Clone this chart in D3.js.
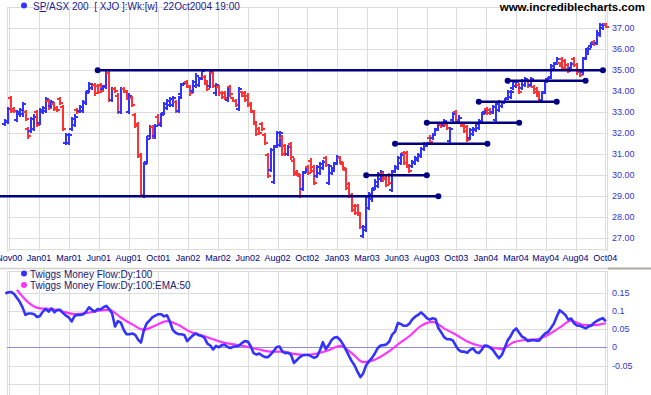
<!DOCTYPE html>
<html>
<head>
<meta charset="utf-8">
<script src="https://d3js.org/d3.v7.min.js"></script>
<style>
  html, body { margin: 0; padding: 0; background: #fff; }
  svg { display: block; font-family: "Liberation Sans", Arial, sans-serif; }
</style>
</head>
<body>
<svg width="651" height="395"></svg>
<script>
// weekly bars of the XJO, 27 Oct 2000 .. 22 Oct 2004
var tickLabels = ["Nov00","Jan01","Mar01","Jun01","Aug01","Oct01","Jan02","Mar02","Jun02","Aug02","Oct02",
                  "Jan03","Mar03","Jun03","Aug03","Oct03","Jan04","Mar04","May04","Aug04","Oct04"];
var priceTicks = [27, 28, 29, 30, 31, 32, 33, 34, 35, 36, 37];
var tmfTicks = [0.15, 0.1, 0.05, 0, -0.05];

var highs = [
  32.70,33.25,33.80,33.25,33.10,33.20,33.50,33.10,32.30,32.80,
  32.90,33.10,33.20,33.30,33.75,33.65,33.60,33.50,33.30,33.75,
  33.35,32.00,32.00,32.80,32.90,33.20,33.35,33.60,34.00,34.45,
  34.40,34.40,34.35,34.40,34.30,34.95,34.95,34.20,34.20,33.90,
  34.20,34.20,34.05,33.90,33.80,32.95,32.55,31.05,30.65,31.85,
  32.40,32.40,32.45,32.90,32.95,33.50,33.65,33.75,33.80,33.60,
  33.80,34.40,34.45,34.55,34.30,34.55,34.85,34.70,35.05,34.80,
  34.45,35.00,34.95,34.40,34.30,34.00,34.00,34.15,34.30,33.75,
  33.65,34.20,34.00,34.00,33.90,33.50,33.10,32.55,32.30,32.55,
  32.00,31.05,31.30,31.45,32.10,32.10,31.90,31.50,31.45,31.60,
  30.80,30.25,30.05,30.20,30.40,30.50,30.80,30.50,30.50,30.65,
  30.75,30.90,30.55,30.40,30.65,30.95,30.90,30.65,30.35,29.70,
  29.15,28.65,28.65,28.25,27.65,29.05,29.20,29.40,29.80,30.15,
  30.25,30.15,29.95,30.10,30.25,30.50,30.90,31.05,31.15,31.15,
  30.55,30.75,30.90,31.05,31.35,31.60,31.60,31.90,32.00,32.25,
  32.50,32.55,32.70,32.50,32.30,33.00,33.10,32.85,32.55,32.55,
  32.40,32.25,32.30,32.55,32.70,33.00,33.20,33.25,33.20,33.35,
  33.50,33.60,33.55,33.70,34.05,34.05,34.55,34.55,34.40,34.60,
  34.70,34.60,34.70,34.30,34.20,34.00,34.00,34.55,34.70,35.30,
  35.40,35.65,35.40,35.65,35.55,35.35,35.40,35.65,35.35,35.00,
  35.65,36.05,36.10,36.35,36.45,36.90,37.25,37.25,37.25];

var lows = [
  32.35,32.45,32.95,32.95,32.55,32.80,32.80,32.60,31.75,32.00,
  32.10,32.30,32.40,32.90,32.95,33.10,33.20,33.05,33.00,33.35,
  32.10,31.45,31.45,32.10,32.30,32.90,32.95,32.95,33.35,33.90,
  34.05,33.80,33.85,33.90,34.05,34.10,33.50,33.50,33.90,32.90,
  32.90,33.90,33.60,32.90,33.25,32.25,30.80,28.95,28.90,30.55,
  31.75,31.75,31.75,32.40,32.30,32.85,33.10,33.25,33.25,32.95,
  32.95,33.75,34.30,34.15,33.80,33.90,34.15,34.20,34.55,34.40,
  34.00,34.15,34.15,33.80,33.80,33.65,33.60,33.50,33.75,33.50,
  33.25,33.05,33.75,33.50,33.25,32.95,32.45,31.85,31.90,32.10,
  31.45,29.85,30.15,29.60,31.30,31.35,30.90,30.90,30.90,30.75,
  29.95,29.95,28.90,29.25,30.10,30.00,30.10,29.55,29.85,30.00,
  30.25,30.40,29.55,30.00,30.15,30.50,30.55,30.25,29.30,28.90,
  28.25,28.10,28.05,27.45,27.00,27.30,28.35,28.75,29.30,29.40,
  29.70,29.70,29.45,29.55,29.20,30.10,30.25,30.50,30.50,30.35,
  30.10,30.35,30.50,30.65,30.80,31.15,31.35,31.50,31.70,31.85,
  32.10,32.25,32.30,32.15,31.55,32.55,32.55,32.45,32.30,32.00,
  31.60,31.70,31.85,32.05,32.15,32.50,32.90,32.85,32.85,32.90,
  32.55,33.00,33.20,33.45,33.60,33.65,34.05,34.15,33.85,34.05,
  34.20,34.15,34.20,33.85,33.75,33.50,33.50,33.85,34.55,34.60,
  34.95,35.25,35.15,35.00,34.95,34.85,35.00,35.15,34.80,34.70,
  34.80,35.50,35.75,36.05,36.15,36.20,36.60,36.90,37.00];

var opens = [
  32.45,32.55,33.70,33.15,32.65,32.90,32.90,33.00,32.20,32.10,
  32.20,33.00,32.50,33.00,33.05,33.55,33.30,33.40,33.20,33.65,
  33.25,31.55,31.55,32.20,32.40,33.10,33.05,33.05,33.45,34.00,
  34.15,34.30,34.25,34.30,34.10,34.20,34.85,33.60,34.10,33.80,
  33.00,34.10,33.95,33.00,33.70,32.85,32.45,30.95,29.00,30.65,
  31.85,32.30,31.85,32.80,32.40,32.95,33.20,33.35,33.35,33.50,
  33.05,33.85,34.35,34.45,34.20,34.00,34.25,34.30,34.65,34.70,
  34.35,34.25,34.85,33.90,34.20,33.90,33.90,33.60,34.20,33.70,
  33.55,33.15,33.95,33.90,33.80,33.40,33.00,32.45,32.20,32.45,
  31.90,30.95,30.25,29.70,31.40,31.45,31.80,31.40,31.00,31.50,
  30.70,30.15,29.95,29.35,30.15,30.40,30.70,30.40,29.95,30.10,
  30.35,30.80,29.65,30.10,30.25,30.60,30.80,30.55,30.25,29.60,
  29.05,28.55,28.55,28.15,27.10,27.40,28.45,28.85,29.40,29.50,
  29.80,30.05,29.85,30.00,29.30,30.20,30.35,30.60,31.05,31.05,
  30.45,30.45,30.60,30.75,30.90,31.25,31.40,31.80,31.80,31.95,
  32.20,32.45,32.40,32.40,31.65,32.65,33.00,32.55,32.50,32.45,
  32.30,31.80,31.95,32.15,32.25,32.60,33.00,33.15,33.10,33.00,
  32.65,33.10,33.30,33.50,33.70,33.75,34.15,34.25,34.30,34.15,
  34.30,34.50,34.30,34.20,34.10,33.90,33.60,33.95,34.60,34.70,
  35.05,35.35,35.35,35.55,35.45,35.25,35.10,35.55,35.25,34.90,
  34.90,35.60,35.85,36.15,36.35,36.30,36.70,37.00,37.20];

var closes = [
  32.60,33.15,33.05,33.05,33.00,33.10,33.40,32.70,31.85,32.70,
  32.80,32.40,33.10,33.20,33.65,33.20,33.50,33.15,33.10,33.45,
  32.20,31.90,31.90,32.70,32.80,33.00,33.25,33.50,33.90,34.35,
  34.30,33.90,33.95,34.00,34.25,34.85,33.60,34.10,34.00,33.00,
  34.10,34.00,33.70,33.80,33.35,32.35,30.90,29.05,30.55,31.75,
  32.30,31.85,32.35,32.50,32.85,33.40,33.55,33.65,33.70,33.05,
  33.70,34.30,34.40,34.25,33.90,34.45,34.75,34.60,34.95,34.50,
  34.10,34.90,34.25,34.30,33.90,33.75,33.70,34.05,33.85,33.55,
  33.35,34.10,33.80,33.60,33.35,33.05,32.55,31.95,32.00,32.20,
  31.55,29.95,31.20,31.35,32.00,32.00,31.00,31.00,31.35,30.85,
  30.05,30.05,29.00,30.10,30.35,30.10,30.20,29.65,30.40,30.55,
  30.65,30.50,30.45,30.30,30.55,30.85,30.65,30.35,29.40,29.00,
  28.35,28.20,28.15,27.55,27.55,28.95,29.10,29.30,29.70,30.05,
  30.15,29.80,29.55,29.65,30.15,30.40,30.80,30.95,30.60,30.45,
  30.20,30.65,30.80,30.95,31.25,31.50,31.55,31.60,31.90,32.15,
  32.40,32.35,32.60,32.25,32.20,32.90,32.65,32.75,32.35,32.10,
  31.70,32.15,32.20,32.45,32.60,32.90,33.10,32.95,32.95,33.25,
  33.40,33.50,33.45,33.65,33.95,33.95,34.45,34.45,33.95,34.50,
  34.60,34.25,34.60,33.95,33.85,33.60,33.90,34.45,34.65,35.20,
  35.30,35.55,35.20,35.10,35.05,34.95,35.30,35.25,34.90,34.80,
  35.55,35.95,36.00,36.25,36.25,36.80,37.15,37.15,37.05];

// Twiggs Money Flow (100 day), read once per week
var tmf = [
  0.148,0.151,0.152,0.147,0.136,0.125,0.109,0.089,0.093,0.093,
  0.091,0.083,0.086,0.098,0.105,0.098,0.107,0.096,0.103,0.103,
  0.094,0.087,0.082,0.071,0.086,0.089,0.089,0.091,0.098,0.110,
  0.103,0.098,0.105,0.104,0.110,0.114,0.105,0.093,0.057,0.072,
  0.068,0.048,0.036,0.036,0.038,0.034,0.021,0.013,0.047,0.066,
  0.074,0.083,0.087,0.091,0.091,0.085,0.088,0.071,0.048,0.040,
  0.036,0.036,0.034,0.017,0.025,0.033,0.038,0.033,0.031,0.026,
  0.010,0.005,-0.006,0.004,0.000,0.006,0.007,0.001,-0.002,0.002,
  0.002,0.005,0.012,0.017,0.016,0.003,-0.016,-0.020,-0.017,-0.023,
  -0.027,-0.027,-0.019,-0.010,0.001,0.002,-0.012,-0.016,-0.015,-0.021,
  -0.043,-0.035,-0.027,-0.022,-0.021,-0.021,-0.025,-0.029,-0.025,-0.008,
  0.014,-0.005,0.006,0.020,0.027,0.028,0.020,0.008,-0.007,-0.023,
  -0.038,-0.050,-0.067,-0.082,-0.071,-0.049,-0.038,-0.029,-0.017,-0.002,
  0.005,0.006,0.008,0.016,0.035,0.043,0.067,0.064,0.059,0.059,
  0.065,0.077,0.084,0.089,0.096,0.089,0.080,0.076,0.080,0.078,
  0.053,0.041,0.028,0.022,0.022,0.019,0.005,-0.007,-0.012,-0.012,
  -0.015,-0.007,-0.003,-0.013,-0.016,-0.007,0.005,0.004,-0.001,-0.008,
  -0.020,-0.030,-0.021,-0.001,0.019,0.030,0.045,0.052,0.040,0.029,
  0.025,0.017,0.019,0.020,0.018,0.019,0.030,0.038,0.042,0.053,
  0.065,0.084,0.102,0.096,0.089,0.076,0.079,0.066,0.060,0.059,
  0.056,0.052,0.057,0.060,0.068,0.073,0.077,0.080,0.071];

// EMA:50 of the money flow, read every 4th week starting at week 4
var emaFirstWeek = 4, emaEvery = 4;
var tmfEma = [
  0.158,0.123,0.107,0.105,0.098,0.091,0.094,0.100,0.103,0.082,
  0.063,0.048,0.060,0.072,0.061,0.043,0.033,0.022,0.012,0.007,
  0.001,-0.006,-0.012,-0.012,-0.018,-0.021,-0.017,-0.008,0.004,-0.016,
  -0.041,-0.034,-0.016,0.008,0.031,0.059,0.070,0.052,0.035,0.016,
  0.005,0.000,-0.005,0.014,0.020,0.022,0.034,0.054,0.073,0.062,
  0.061,0.066];

// support / resistance lines drawn on the chart (bar index from..to)
var lineLevel = [35, 29, 30, 31.5, 32.5, 33.5, 34.5];
var lineFrom  = [32, -3, 125, 135, 146, 164, 174];
var lineTo    = [207, 150, 146, 167, 178, 191, 201];

var blue = "#3333ff", red = "#ff3333", navy = "#000080", grid = "#dcdcdc";

var svg = d3.select("svg");
var left = 7, right = 607;

var x = d3.scaleLinear().domain([0, highs.length - 1]).range([5.3, 5.3 + 2.887 * (highs.length - 1)]);
var xg = d3.scalePoint().domain(tickLabels).range([9.3, 605.3]);
var y = d3.scaleLinear().domain([26.5, 38]).range([248.8, 7.3]);
var y2 = d3.scaleLinear().domain([-0.1, 0.2]).range([383.7, 274.5]);

function px(v) { return Math.round(v) + 0.5; }

// ---------- price panel ----------
var upper = svg.append("g");

upper.selectAll("line.vg").data(tickLabels).enter().append("line")
  .attr("x1", d => px(xg(d))).attr("x2", d => px(xg(d)))
  .attr("y1", 7).attr("y2", 251)
  .attr("stroke", grid).attr("shape-rendering", "crispEdges");

upper.selectAll("line.hg").data(priceTicks.concat([38, 26.5])).enter().append("line")
  .attr("x1", left).attr("x2", right)
  .attr("y1", d => px(y(d))).attr("y2", d => px(y(d)))
  .attr("stroke", grid).attr("shape-rendering", "crispEdges");

[left, right].forEach(function(v) {
  upper.append("line").attr("x1", v + 0.5).attr("x2", v + 0.5).attr("y1", 7).attr("y2", 251)
    .attr("stroke", grid).attr("shape-rendering", "crispEdges");
});

var bars = upper.selectAll("g.bar").data(highs.map((h, i) => i)).enter().append("g")
  .attr("stroke", i => closes[i] >= opens[i] ? blue : red)
  .attr("stroke-width", 2)
  .attr("shape-rendering", "crispEdges");

bars.append("line")
  .attr("x1", i => Math.round(x(i))).attr("x2", i => Math.round(x(i)))
  .attr("y1", i => Math.round(y(highs[i]))).attr("y2", i => Math.round(y(lows[i])));
bars.append("line")
  .attr("x1", i => Math.round(x(i)) - 3).attr("x2", i => Math.round(x(i)))
  .attr("y1", i => Math.round(y(opens[i]))).attr("y2", i => Math.round(y(opens[i])));
bars.append("line")
  .attr("x1", i => Math.round(x(i))).attr("x2", i => Math.round(x(i)) + 3)
  .attr("y1", i => Math.round(y(closes[i]))).attr("y2", i => Math.round(y(closes[i])));

var sr = upper.selectAll("g.sr").data(lineLevel).enter().append("g");
sr.append("line")
  .attr("x1", (d, i) => x(lineFrom[i])).attr("x2", (d, i) => x(lineTo[i]))
  .attr("y1", d => y(d)).attr("y2", d => y(d))
  .attr("stroke", navy).attr("stroke-width", 2.4);
sr.append("circle").attr("cx", (d, i) => x(lineFrom[i])).attr("cy", d => y(d)).attr("r", 3).attr("fill", navy);
sr.append("circle").attr("cx", (d, i) => x(lineTo[i])).attr("cy", d => y(d)).attr("r", 3).attr("fill", navy);

upper.selectAll("text.py").data(priceTicks).enter().append("text")
  .attr("x", 612).attr("y", d => y(d)).attr("dy", "0.35em")
  .attr("font-size", "9px").attr("fill", "#3535d0")
  .text(d => d.toFixed(2));

svg.selectAll("text.xl").data(tickLabels).enter().append("text")
  .attr("x", d => xg(d)).attr("y", 261)
  .attr("text-anchor", "middle").attr("font-size", "9px").attr("fill", navy)
  .text(d => d);

// title and watermark
svg.append("circle").attr("cx", 24).attr("cy", 5.5).attr("r", 3).attr("fill", blue);
var title = svg.append("text").attr("x", 33).attr("y", 10)
  .attr("font-size", "10px").attr("fill", "#202090").style("white-space", "pre");
title.append("tspan").text("S");
title.append("tspan").attr("text-decoration", "underline").text("P");
title.append("tspan").text("/ASX 200  [ XJO ]:Wk:[w]  22Oct2004 19:00");

svg.append("text").attr("x", 645).attr("y", 11).attr("text-anchor", "end")
  .attr("font-size", "11.5px").attr("font-weight", "bold").attr("fill", "#000")
  .text("www.incrediblecharts.com");

// separator between the panels
svg.append("line").attr("x1", 0).attr("x2", 651).attr("y1", 268.5).attr("y2", 268.5)
  .attr("stroke", "#d4d0c8").attr("stroke-width", 1.5);
svg.append("line").attr("x1", right + 1).attr("x2", 651).attr("y1", 268.5).attr("y2", 268.5)
  .attr("stroke", "#b4b0a4").attr("stroke-width", 2);

// ---------- money flow panel ----------
var lower = svg.append("g");

lower.selectAll("line.vg").data(tickLabels).enter().append("line")
  .attr("x1", d => px(xg(d))).attr("x2", d => px(xg(d)))
  .attr("y1", 271).attr("y2", 395)
  .attr("stroke", grid).attr("shape-rendering", "crispEdges");

lower.selectAll("line.hg").data([0.15, 0.1, 0.05, -0.05, -0.1]).enter().append("line")
  .attr("x1", left).attr("x2", right)
  .attr("y1", d => px(y2(d))).attr("y2", d => px(y2(d)))
  .attr("stroke", grid).attr("shape-rendering", "crispEdges");
lower.append("line").attr("x1", left).attr("x2", right).attr("y1", 271.5).attr("y2", 271.5)
  .attr("stroke", grid).attr("shape-rendering", "crispEdges");

[left, right].forEach(function(v) {
  lower.append("line").attr("x1", v + 0.5).attr("x2", v + 0.5).attr("y1", 271).attr("y2", 395)
    .attr("stroke", grid).attr("shape-rendering", "crispEdges");
});

lower.append("line").attr("x1", left).attr("x2", right)
  .attr("y1", px(y2(0))).attr("y2", px(y2(0)))
  .attr("stroke", "#8c8cdc").attr("shape-rendering", "crispEdges");

lower.append("path").datum(tmfEma)
  .attr("fill", "none").attr("stroke", "#ff33ff").attr("stroke-width", 2.2)
  .attr("d", d3.line()
    .x((d, k) => x(emaFirstWeek + k * emaEvery))
    .y(d => y2(d))
    .curve(d3.curveMonotoneX));

lower.append("path").datum(tmf)
  .attr("fill", "none").attr("stroke", blue).attr("stroke-width", 2.6)
  .attr("stroke-linejoin", "round")
  .attr("d", d3.line().x((d, i) => x(i)).y(d => y2(d)));

lower.selectAll("text.ty").data(tmfTicks).enter().append("text")
  .attr("x", 612).attr("y", d => y2(d)).attr("dy", "0.35em")
  .attr("font-size", "9px").attr("fill", "#3535d0")
  .text(d => d === 0 ? "0" : String(d));

var legend = [
  { name: "Twiggs Money Flow:Dy:100", color: blue },
  { name: "Twiggs Money Flow:Dy:100:EMA:50", color: "#ff33ff" }
];
var lg = svg.selectAll("g.lg").data(legend).enter().append("g")
  .attr("transform", (d, i) => "translate(0," + (273.5 + i * 11.5) + ")");
lg.append("circle").attr("cx", 24).attr("cy", 0).attr("r", 3).attr("fill", d => d.color);
lg.append("text").attr("x", 30).attr("y", 4).attr("font-size", "10px").attr("fill", "#202070")
  .text(d => d.name);
</script>
</body>
</html>
